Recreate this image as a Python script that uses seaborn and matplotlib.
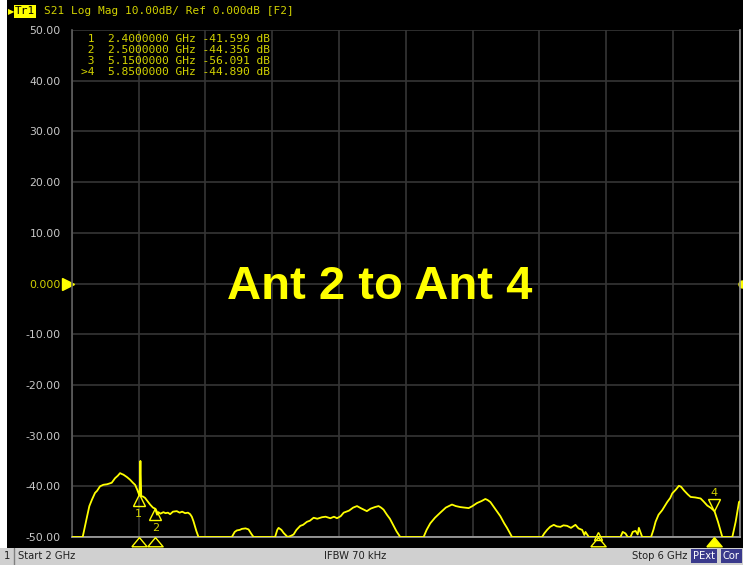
import numpy as np
import pandas as pd
import matplotlib
matplotlib.use("Agg")
import matplotlib.pyplot as plt
import matplotlib.transforms as mtransforms
import seaborn as sns

# --- podaci ocitani sa slike (S21, Ant 2 -> Ant 4) ---
freq_ghz = [2.000, 2.064, 2.078, 2.090, 2.104, 2.120, 2.138, 2.150, 2.168, 2.188, 2.210, 2.238,
            2.258, 2.275, 2.288, 2.300, 2.308, 2.330, 2.348, 2.365, 2.378, 2.390, 2.398, 2.405,
            2.410, 2.415, 2.425, 2.438, 2.452, 2.468, 2.485, 2.498, 2.510, 2.518, 2.530, 2.548,
            2.560, 2.575, 2.588, 2.605, 2.628, 2.645, 2.660, 2.678, 2.695, 2.708, 2.718, 2.728,
            2.745, 2.758, 2.958, 2.975, 2.988, 3.005, 3.018, 3.040, 3.058, 3.075, 3.088, 3.217,
            3.230, 3.238, 3.255, 3.268, 3.292, 3.310, 3.328, 3.345, 3.368, 3.385, 3.408, 3.425,
            3.448, 3.470, 3.498, 3.520, 3.548, 3.570, 3.588, 3.610, 3.628, 3.660, 3.685, 3.708,
            3.730, 3.748, 3.767, 3.790, 3.815, 3.837, 3.852, 3.867, 3.887, 3.905, 3.927, 3.945,
            3.967, 4.107, 4.125, 4.147, 4.175, 4.207, 4.240, 4.277, 4.300, 4.327, 4.350, 4.377,
            4.400, 4.427, 4.455, 4.477, 4.490, 4.507, 4.535, 4.567, 4.590, 4.607, 4.637, 4.817,
            4.830, 4.847, 4.865, 4.887, 4.905, 4.927, 4.945, 4.967, 4.990, 5.017, 5.035, 5.057,
            5.070, 5.077, 5.097, 5.287, 5.300, 5.317, 5.330, 5.347, 5.360, 5.377, 5.390, 5.397,
            5.417, 5.470, 5.485, 5.497, 5.515, 5.537, 5.550, 5.567, 5.585, 5.597, 5.620, 5.637,
            5.650, 5.667, 5.690, 5.707, 5.735, 5.767, 5.785, 5.807, 5.830, 5.850, 5.871, 5.897,
            5.957, 5.977, 5.997, 6.000]
s21_db = [-50.0, -50.0, -47.8, -46.0, -43.9, -42.6, -41.3, -40.9, -40.0, -39.7, -39.6, -39.3,
          -38.4, -37.9, -37.4, -37.6, -37.7, -38.2, -38.7, -39.3, -39.7, -40.6, -41.3, -41.8,
          -35.0, -42.0, -42.0, -42.3, -42.9, -43.6, -44.2, -44.4, -45.6, -45.1, -45.4, -45.1,
          -45.3, -45.2, -45.5, -45.0, -44.9, -45.2, -45.0, -45.3, -45.2, -45.5, -46.0, -46.9,
          -48.8, -50.0, -50.0, -49.0, -48.7, -48.6, -48.4, -48.3, -48.5, -49.4, -50.0, -50.0,
          -48.6, -48.2, -48.6, -49.2, -50.0, -49.8, -49.5, -48.6, -47.8, -47.6, -47.0, -46.8,
          -46.2, -46.4, -46.1, -46.0, -46.3, -46.0, -46.3, -45.9, -45.2, -44.8, -44.2, -43.9,
          -44.3, -44.6, -44.9, -44.4, -44.1, -43.9, -44.2, -44.6, -45.6, -46.4, -47.8, -48.9,
          -50.0, -50.0, -48.6, -47.3, -46.2, -45.2, -44.2, -43.6, -43.9, -44.1, -44.2, -44.3,
          -43.9, -43.3, -42.9, -42.5, -42.7, -43.1, -44.4, -45.9, -47.3, -48.2, -50.0, -50.0,
          -49.3, -48.6, -48.0, -47.6, -47.9, -48.0, -47.7, -47.8, -48.2, -47.6, -48.3, -48.6,
          -49.6, -49.0, -50.0, -50.0, -49.0, -49.3, -50.0, -50.0, -49.0, -48.8, -49.5, -48.2,
          -50.0, -50.0, -48.5, -47.0, -45.6, -44.7, -44.0, -43.1, -42.3, -41.4, -40.6, -39.9,
          -40.1, -40.8, -41.6, -42.1, -42.2, -42.4, -43.0, -43.8, -44.3, -44.9, -47.0, -50.0,
          -50.0, -47.0, -43.1, -43.0]

marker_ids = ["1", "2", "3", "4"]
marker_freq = [2.4, 2.5, 5.15, 5.85]
marker_db = [-41.599, -44.356, -56.091, -44.890]
active_marker = "4"

y_ticks = [50, 40, 30, 20, 10, 0, -10, -20, -30, -40, -50]
y_tick_labels = ["50.00", "40.00", "30.00", "20.00", "10.00", "0.000",
                 "-10.00", "-20.00", "-30.00", "-40.00", "-50.00"]

title_text = "S21 Log Mag 10.00dB/ Ref 0.000dB [F2]"
big_label = "Ant 2 to Ant 4"

W, H = 743, 565
YEL = "#ffff00"
OLIVE = "#d2d200"
GRID = "#353535"
# sirok, nizak trougao za oznake ispod ose
WIDE_TRI = [(-1.0, -0.3), (1.0, -0.3), (0.0, 0.9), (-1.0, -0.3)]
TRI_Y = -0.0135

sns.set_style("dark")
plt.rcParams["font.family"] = ["DejaVu Sans"]

fig = plt.figure(figsize=(W / 100, H / 100), dpi=100, facecolor="white")


def px(x, y):
    # pikseli slike -> koordinate figure
    return x / W, 1 - y / H


# crna pozadina instrumenta i statusna traka
bg = fig.add_axes([7 / W, 17 / H, 1 - 7 / W, 1 - 17 / H])
bg.set_facecolor("black")
bg.set_xticks([]); bg.set_yticks([])
for s in bg.spines.values():
    s.set_visible(False)
bar = fig.add_axes([0, 0, 1, 17 / H])
bar.set_facecolor("#d0d0d0")
bar.set_xlim(0, W)
bar.set_xticks([]); bar.set_yticks([])
for s in bar.spines.values():
    s.set_visible(False)
bar.axvline(14, color="#808080", lw=1)

ax = fig.add_axes([72 / W, 28 / H, 667.5 / W, 507 / H])
ax.set_facecolor("black")

df = pd.DataFrame({"f": freq_ghz, "db": np.clip(s21_db, -50, 50)})
sns.lineplot(data=df, x="f", y="db", ax=ax, color=YEL, lw=1.3,
             estimator=None, sort=False, zorder=5)

ax.set_xlim(2, 6)
ax.set_ylim(-50, 50)
ax.set_xticks(np.linspace(2, 6, 11))
ax.set_xticklabels([])
ax.set_yticks(y_ticks)
ax.set_yticklabels(y_tick_labels)
ax.set_xlabel("")
ax.set_ylabel("")
ax.grid(True, color=GRID, lw=1.2)
ax.tick_params(axis="both", length=0, pad=8)
for lbl in ax.get_yticklabels():
    lbl.set_fontsize(7.8)
    lbl.set_color(OLIVE if lbl.get_text() == "0.000" else "#c8c8c8")
ax.spines["top"].set_visible(False)
ax.spines["left"].set_color("#606060")
ax.spines["right"].set_color("#909090")
ax.spines["bottom"].set_color("#a8a8a8")
for s in ["left", "right", "bottom"]:
    ax.spines[s].set_linewidth(1.2)

# markeri na tragu
below = mtransforms.offset_copy(ax.transData, fig=fig, y=-6, units="dots")
above = mtransforms.offset_copy(ax.transData, fig=fig, y=6, units="dots")
bottom_tr = mtransforms.blended_transform_factory(ax.transData, ax.transAxes)
for mid, mf, mdb in zip(marker_ids, marker_freq, marker_db):
    yv = max(mdb, -50)
    if mid == active_marker:
        ax.plot(mf, yv, marker="v", ms=8, mfc="none", mec=YEL, mew=1.0,
                transform=above, zorder=6)
        ax.annotate(mid, (mf, yv), xytext=(0, 18), textcoords="offset pixels",
                    ha="center", va="center", color=OLIVE, fontsize=8, zorder=6)
        ax.plot(mf, TRI_Y, marker=WIDE_TRI, ms=11, color=YEL, transform=bottom_tr,
                clip_on=False, zorder=6)
    elif mdb < -50:
        ax.plot(mf, TRI_Y, marker=WIDE_TRI, ms=11, mfc="none", mec=YEL, mew=1.0,
                transform=bottom_tr, clip_on=False, zorder=6)
        ax.plot(mf, 0.001, marker="^", ms=6, mfc="none", mec=YEL, mew=1.0,
                transform=bottom_tr, clip_on=False, zorder=6)
    else:
        ax.plot(mf, yv, marker="^", ms=8, mfc="none", mec=YEL, mew=1.0,
                transform=below, zorder=6)
        ax.annotate(mid, (mf, yv), xytext=(0, -20), textcoords="offset pixels",
                    ha="center", va="center", color=OLIVE, fontsize=8, zorder=6)
        ax.plot(mf, TRI_Y, marker=WIDE_TRI, ms=11, mfc="none", mec=YEL, mew=1.0,
                transform=bottom_tr, clip_on=False, zorder=6)

# referentni nivo
ref_tr = mtransforms.blended_transform_factory(ax.transAxes, ax.transData)
ax.plot(-0.006, 0, marker=">", ms=8, color=YEL, transform=ref_tr, clip_on=False)
ax.plot(1.003, 0, marker="o", ms=5, color=YEL, transform=ref_tr, clip_on=False)

# tabela markera
for i, (mid, mf, mdb) in enumerate(zip(marker_ids, marker_freq, marker_db)):
    pre = ">" if mid == active_marker else " "
    line = f"{pre}{mid}  {mf:.7f} GHz {mdb:.3f} dB"
    fig.text(*px(81, 39.5 + i * 10.8), line, family="DejaVu Sans Mono",
             fontsize=8.1, color=OLIVE, va="center", ha="left")

# veliki natpis
fig.text(*px(380, 287), big_label, ha="center", va="center", color=YEL,
         fontsize=34, fontweight="bold", family="Liberation Sans")

# naslovna traka
fig.text(*px(8, 11.5), "\u25B6", color=YEL, fontsize=6, va="center", ha="left")
fig.text(*px(15, 11.5), "Tr1", family="DejaVu Sans Mono", fontsize=8, color="black",
         va="center", ha="left",
         bbox=dict(boxstyle="square,pad=0.1", fc=YEL, ec="none"))
fig.text(*px(44, 11.5), title_text, family="DejaVu Sans Mono", fontsize=8,
         color=OLIVE, va="center", ha="left")

# statusna traka
fig.text(*px(4, 556), "1", fontsize=7.2, color="#202020", va="center")
fig.text(*px(18, 556), "Start 2 GHz", fontsize=7.2, color="#202020", va="center")
fig.text(*px(355, 556), "IFBW 70 kHz", fontsize=7.2, color="#202020", va="center",
         ha="center")
fig.text(*px(687, 556), "Stop 6 GHz", fontsize=7.2, color="#202020", va="center",
         ha="right")
fig.text(*px(704, 556), "PExt", fontsize=7.2, color="white", va="center", ha="center",
         bbox=dict(boxstyle="square,pad=0.2", fc="#3a3a8c", ec="none"))
fig.text(*px(731, 556), "Cor", fontsize=7.2, color="white", va="center", ha="center",
         bbox=dict(boxstyle="square,pad=0.2", fc="#3a3a8c", ec="none"))

fig.savefig("out.png", dpi=100, facecolor=fig.get_facecolor())
